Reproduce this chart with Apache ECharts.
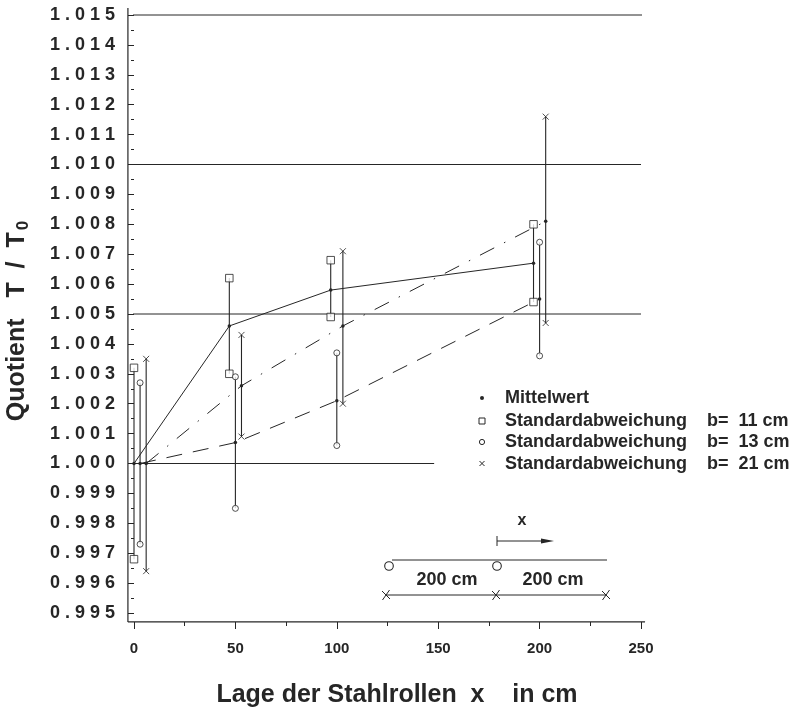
<!DOCTYPE html>
<html>
<head>
<meta charset="utf-8">
<script src="https://cdn.jsdelivr.net/npm/echarts@6/dist/echarts.min.js"></script>
<style>
  html, body { margin: 0; padding: 0; background: #ffffff; }
  #chart { width: 802px; height: 709px; }
</style>
</head>
<body>
<div id="chart"></div>
<script>
// Measured quotient T/T0 against the position of the steel rollers.
// Bars of each roller width are drawn a few cm apart so they do not overlap.
const posB11  = [0, 47, 97, 197];
const meanB11 = [1.0000, 1.0046, 1.0058, 1.0067];
const hiB11   = [1.0032, 1.0062, 1.0068, 1.0080];
const loB11   = [0.9968, 1.0030, 1.0049, 1.0054];

const posB13  = [3, 50, 100, 200];
const meanB13 = [1.0000, 1.0007, 1.0021, 1.0055];
const hiB13   = [1.0027, 1.0029, 1.0037, 1.0074];
const loB13   = [0.9973, 0.9985, 1.0006, 1.0036];

const posB21  = [6, 53, 103, 203];
const meanB21 = [1.0000, 1.0026, 1.0046, 1.0081];
const hiB21   = [1.0035, 1.0043, 1.0071, 1.0116];
const loB21   = [0.9964, 1.0009, 1.0020, 1.0047];

// Horizontal guide lines: level and where each one ends on the x scale
const guideLevels = [1.015, 1.010, 1.005, 1.000];
const guideEnds   = [252, 250, 250, 148];

// Axis scales
const xMin = 0, xMax = 250, xStep = 50;
const yMin = 0.995, yMax = 1.015, yStep = 0.001;

const legendLabels = [
  'Mittelwert',
  'Standardabweichung    b=  11 cm',
  'Standardabweichung    b=  13 cm',
  'Standardabweichung    b=  21 cm'
];

const INK = '#262626';
const FONT = "'Liberation Sans', Arial, Helvetica, sans-serif";

const chart = echarts.init(document.getElementById('chart'), null, { renderer: 'canvas' });

function meanLine(xs, ys, dash) {
  return {
    type: 'line',
    data: xs.map((x, i) => [x, ys[i]]),
    symbol: 'circle',
    symbolSize: 3.5,
    itemStyle: { color: INK },
    lineStyle: { color: INK, width: 1, type: dash },
    silent: true,
    z: 4
  };
}

function errorBars(xs, lo, hi) {
  return {
    type: 'custom',
    data: xs.map((x, i) => [x, lo[i], hi[i]]),
    encode: { x: 0, y: [1, 2] },
    renderItem: function (params, api) {
      const a = api.coord([api.value(0), api.value(1)]);
      const b = api.coord([api.value(0), api.value(2)]);
      return {
        type: 'line',
        shape: { x1: a[0], y1: a[1], x2: b[0], y2: b[1] },
        style: { stroke: INK, lineWidth: 1.1 }
      };
    },
    silent: true,
    z: 3
  };
}

function endMarks(xs, lo, hi, symbol, size) {
  const pts = [];
  xs.forEach((x, i) => { pts.push([x, lo[i]]); pts.push([x, hi[i]]); });
  return {
    type: 'scatter',
    data: pts,
    symbol: symbol,
    symbolSize: size,
    itemStyle: { color: '#ffffff', borderColor: INK, borderWidth: 1 },
    silent: true,
    z: 5
  };
}

const crossPath = 'path://M0,0L10,10M10,0L0,10';

const guideSeries = guideLevels.map((lv, i) => ({
  type: 'line',
  data: [[-3, lv], [guideEnds[i], lv]],
  symbol: 'none',
  clip: false,
  lineStyle: { color: INK, width: 1 },
  silent: true,
  z: 1
}));

const option = {
  backgroundColor: '#ffffff',
  animation: false,
  grid: { left: 134, right: 161, top: 15, bottom: 96 },
  xAxis: {
    type: 'value',
    min: xMin, max: xMax, interval: xStep,
    offset: 9,
    axisLine: { show: false },
    axisTick: { show: true, length: 7, lineStyle: { color: INK, width: 1 } },
    minorTick: { show: true, splitNumber: 2, length: 4, lineStyle: { color: INK, width: 1 } },
    splitLine: { show: false },
    axisLabel: { margin: 19, color: INK, fontFamily: FONT, fontWeight: 'bold', fontSize: 15 }
  },
  yAxis: {
    type: 'value',
    min: yMin, max: yMax, interval: yStep,
    offset: 6,
    axisLine: { show: false },
    axisTick: { show: true, length: 6, lineStyle: { color: INK, width: 1 } },
    minorTick: { show: true, splitNumber: 2, length: 3, lineStyle: { color: INK, width: 1 } },
    splitLine: { show: false },
    axisLabel: {
      margin: 13, color: INK, fontFamily: FONT, fontWeight: 'bold', fontSize: 18,
      formatter: v => v.toFixed(3).split('').join(' ')
    }
  },
  series: [
    ...guideSeries,
    errorBars(posB11, loB11, hiB11),
    errorBars(posB13, loB13, hiB13),
    errorBars(posB21, loB21, hiB21),
    meanLine(posB11, meanB11, 'solid'),
    meanLine(posB13, meanB13, [16, 11]),
    meanLine(posB21, meanB21, [16, 11, 1.5, 11]),
    endMarks(posB11, loB11, hiB11, 'rect', 7.5),
    endMarks(posB13, loB13, hiB13, 'circle', 6),
    endMarks(posB21, loB21, hiB21, crossPath, 6)
  ]
};

chart.setOption(option);

// Axis frame lines run a little past the first and last ticks
const corner = chart.convertToPixel({ gridIndex: 0 }, [-3, 0.99470]);
const topLeft = chart.convertToPixel({ gridIndex: 0 }, [-3, 1.01523]);
const rightEnd = chart.convertToPixel({ gridIndex: 0 }, [252, 0.99470]);

const txt = (x, y, text, size, align) => ({
  type: 'text', x: x, y: y, silent: true,
  style: { text: text, fill: INK, font: 'bold ' + size + 'px ' + FONT, align: align || 'left', verticalAlign: 'middle' }
});

const seg = (x1, y1, x2, y2, w) => ({
  type: 'line', silent: true,
  shape: { x1: x1, y1: y1, x2: x2, y2: y2 },
  style: { stroke: INK, lineWidth: w || 1 }
});

const graphics = [
  seg(corner[0], topLeft[1], corner[0], corner[1], 1.2),
  seg(corner[0], corner[1], rightEnd[0], rightEnd[1], 1.2),

  // axis titles
  {
    type: 'text', x: 17, y: 321, rotation: Math.PI / 2, silent: true,
    style: {
      text: '{q|Quotient   T  /  T}{s|0}',
      align: 'center', verticalAlign: 'middle',
      rich: {
        q: { fill: INK, fontFamily: FONT, fontWeight: 'bold', fontSize: 25, lineHeight: 30 },
        s: { fill: INK, fontFamily: FONT, fontWeight: 'bold', fontSize: 17, lineHeight: 30, padding: [12, 0, 0, 2] }
      }
    }
  },
  txt(397, 695, 'Lage der Stahlrollen  x    in cm', 25, 'center'),

  // legend
  { type: 'circle', silent: true, shape: { cx: 482, cy: 398, r: 2 }, style: { fill: INK } },
  { type: 'rect', silent: true, shape: { x: 479, y: 418, width: 6, height: 6 }, style: { fill: '#fff', stroke: INK, lineWidth: 1 } },
  { type: 'circle', silent: true, shape: { cx: 482, cy: 442, r: 2.6 }, style: { fill: '#fff', stroke: INK, lineWidth: 1 } },
  seg(479.5, 461, 484.5, 466), seg(484.5, 461, 479.5, 466),
  txt(505, 398, legendLabels[0], 18),
  txt(505, 421, legendLabels[1], 18),
  txt(505, 442, legendLabels[2], 18),
  txt(505, 464, legendLabels[3], 18),

  // sketch of the roller arrangement
  txt(522, 521, 'x', 16, 'center'),
  seg(497, 536, 497, 546),
  seg(497, 541, 544, 541),
  { type: 'polygon', silent: true, shape: { points: [[541, 538.5], [554, 541], [541, 543.5]] }, style: { fill: INK } },
  seg(392, 560, 607, 560),
  { type: 'circle', silent: true, shape: { cx: 389, cy: 566, r: 4.3 }, style: { fill: '#fff', stroke: INK, lineWidth: 1.1 } },
  { type: 'circle', silent: true, shape: { cx: 497, cy: 566, r: 4.3 }, style: { fill: '#fff', stroke: INK, lineWidth: 1.1 } },
  txt(447, 580, '200 cm', 18, 'center'),
  txt(553, 580, '200 cm', 18, 'center'),
  seg(385, 595, 607, 595)
];

[386, 496, 606].forEach(cx => {
  graphics.push(seg(cx - 3.5, 600, cx + 3.5, 590));
  graphics.push(seg(cx - 4, 591, cx + 4, 599));
});

chart.setOption({ graphic: graphics });
</script>
</body>
</html>
